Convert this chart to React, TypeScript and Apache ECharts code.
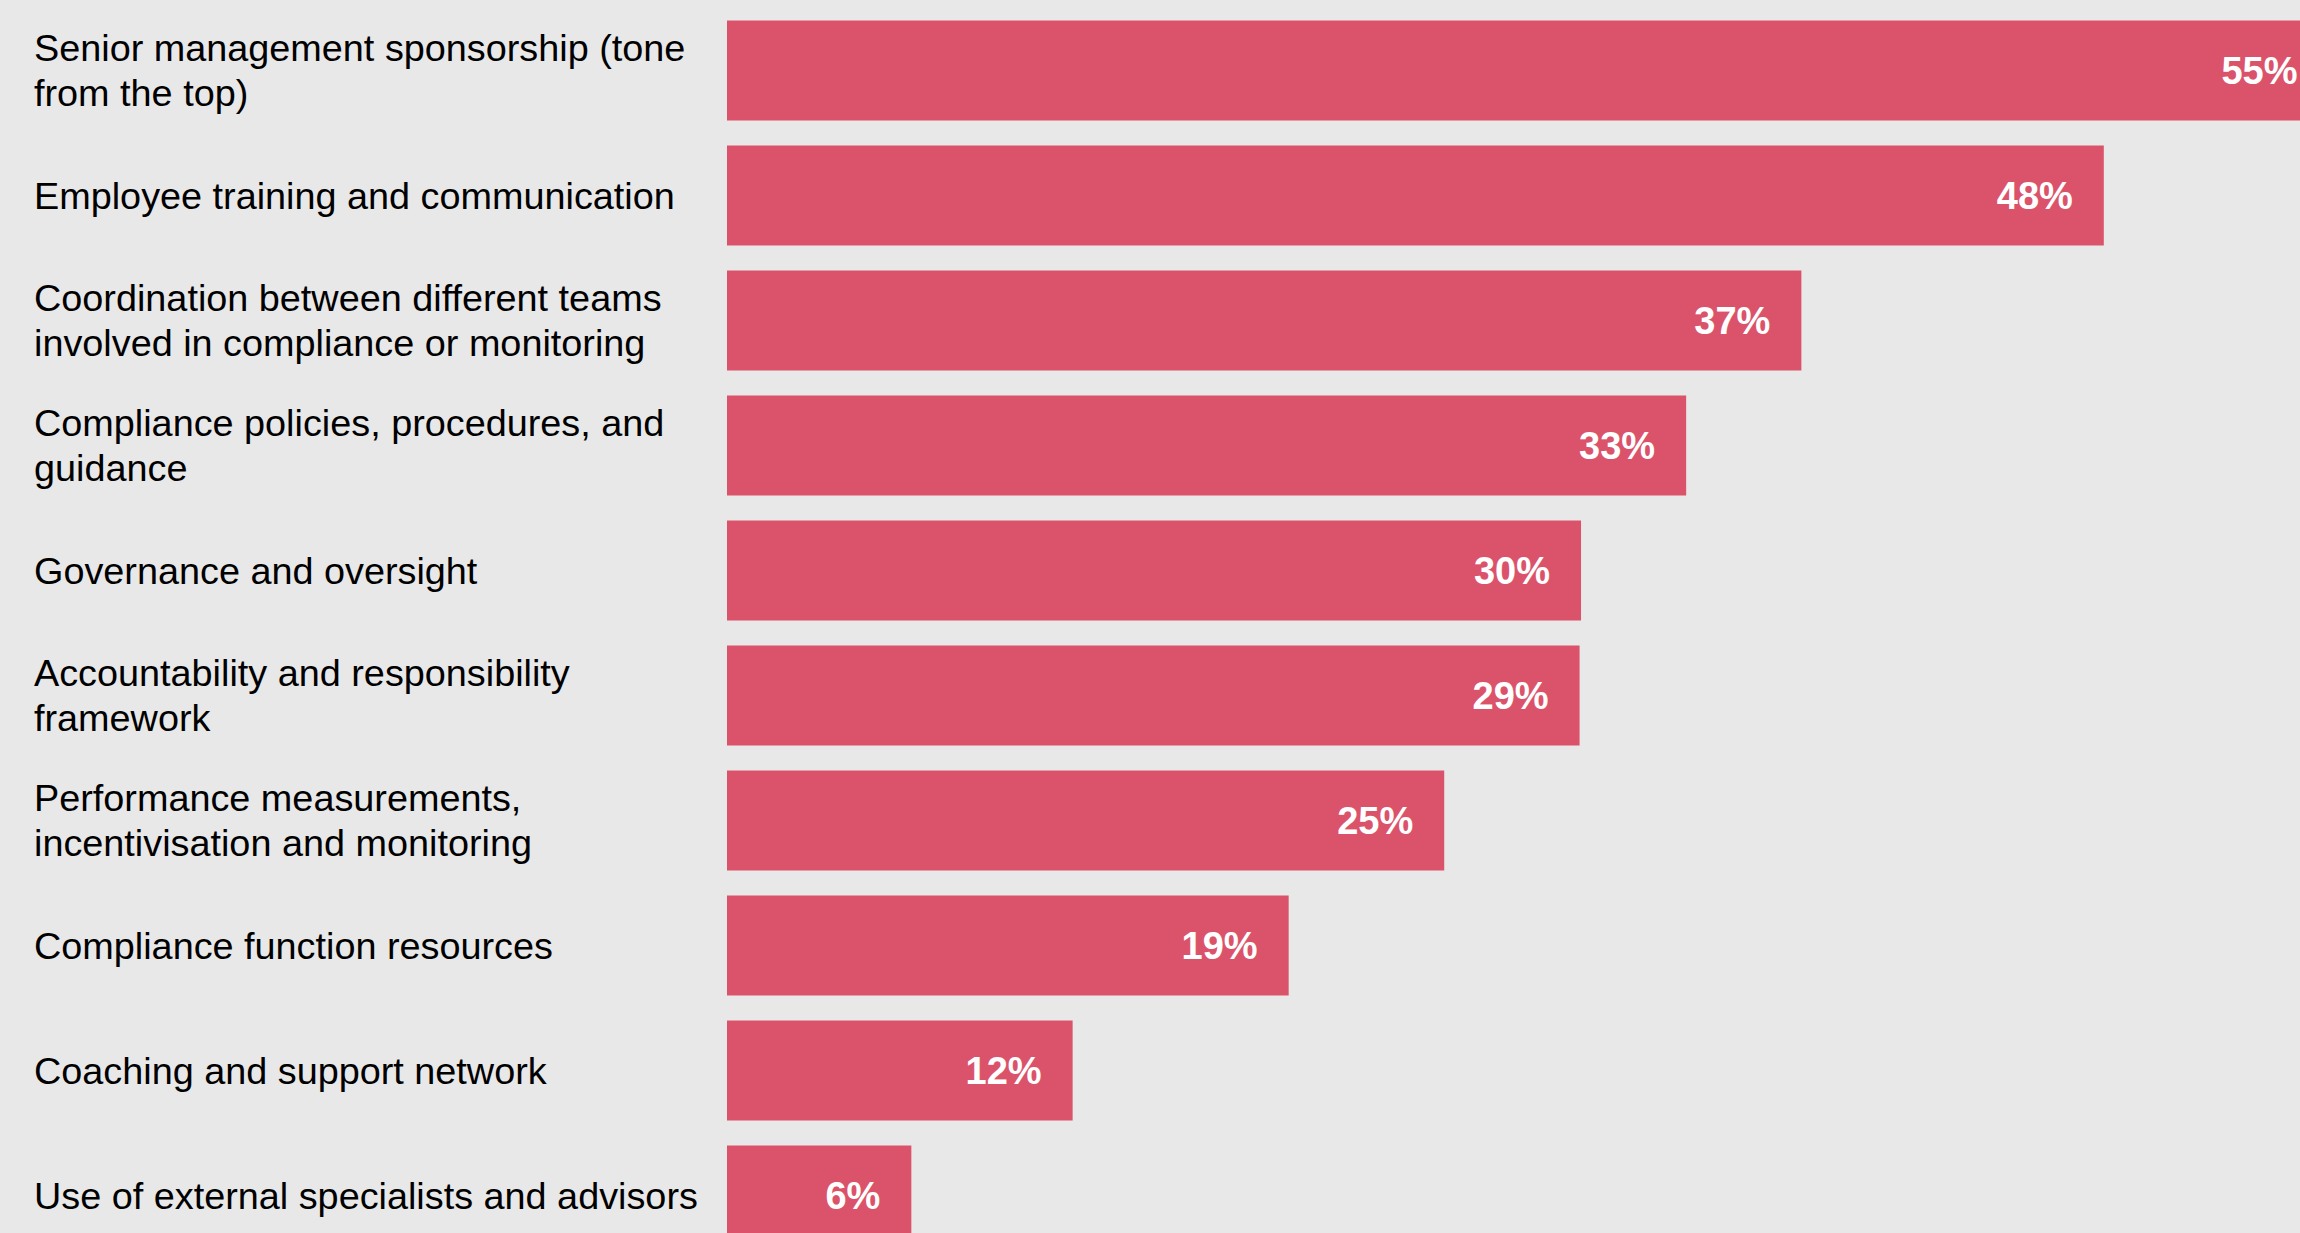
import React, { useEffect, useRef } from "react";
import * as echarts from "echarts";

const categories = [
  "Senior management sponsorship (tone\nfrom the top)",
  "Employee training and communication",
  "Coordination between different teams\ninvolved in compliance or monitoring",
  "Compliance policies, procedures, and\nguidance",
  "Governance and oversight",
  "Accountability and responsibility\nframework",
  "Performance measurements,\nincentivisation and monitoring",
  "Compliance function resources",
  "Coaching and support network",
  "Use of external specialists and advisors",
];

// bar lengths (percent)
const barValues = [55.6, 47.8, 37.3, 33.3, 29.65, 29.6, 24.9, 19.5, 12.0, 6.4];
// printed value labels
const valueLabels = ["55%", "48%", "37%", "33%", "30%", "29%", "25%", "19%", "12%", "6%"];

const BG = "#e8e8e8";
const BAR = "#db536a";
const FONT = "'Liberation Sans', Arial, Helvetica, sans-serif";

export default function App() {
  const ref = useRef<HTMLDivElement>(null);
  useEffect(() => {
    document.body.style.margin = "0";
    document.body.style.background = BG;
    if (!ref.current) return;
    const chart = echarts.init(ref.current, null, { renderer: "svg" });
    chart.setOption({
      animation: false,
      backgroundColor: BG,
      grid: { left: 727, right: 0, top: 8, bottom: 2, containLabel: false },
      xAxis: {
        type: "value",
        min: 0,
        max: 56,
        show: false,
        splitLine: { show: false },
      },
      yAxis: {
        type: "category",
        inverse: true,
        data: categories,
        axisLine: { show: false },
        axisTick: { show: false },
        splitLine: { show: false },
        axisLabel: {
          align: "left",
          margin: 693,
          color: "#000",
          fontSize: 37.8,
          lineHeight: 45,
          fontFamily: FONT,
        },
      },
      series: [
        {
          type: "bar",
          data: barValues,
          barCategoryGap: "20%",
          itemStyle: { color: BAR },
          label: {
            show: true,
            position: "insideRight",
            distance: 31,
            color: "#fff",
            fontWeight: "bold",
            fontSize: 38,
            fontFamily: FONT,
            formatter: (p: any) => valueLabels[p.dataIndex],
          },
        },
      ],
    });
    return () => chart.dispose();
  }, []);
  return (
    <div style={{ width: 2300, height: 1233, overflow: "hidden", background: BG }}>
      <div ref={ref} style={{ width: 2340, height: 1260 }} />
    </div>
  );
}
